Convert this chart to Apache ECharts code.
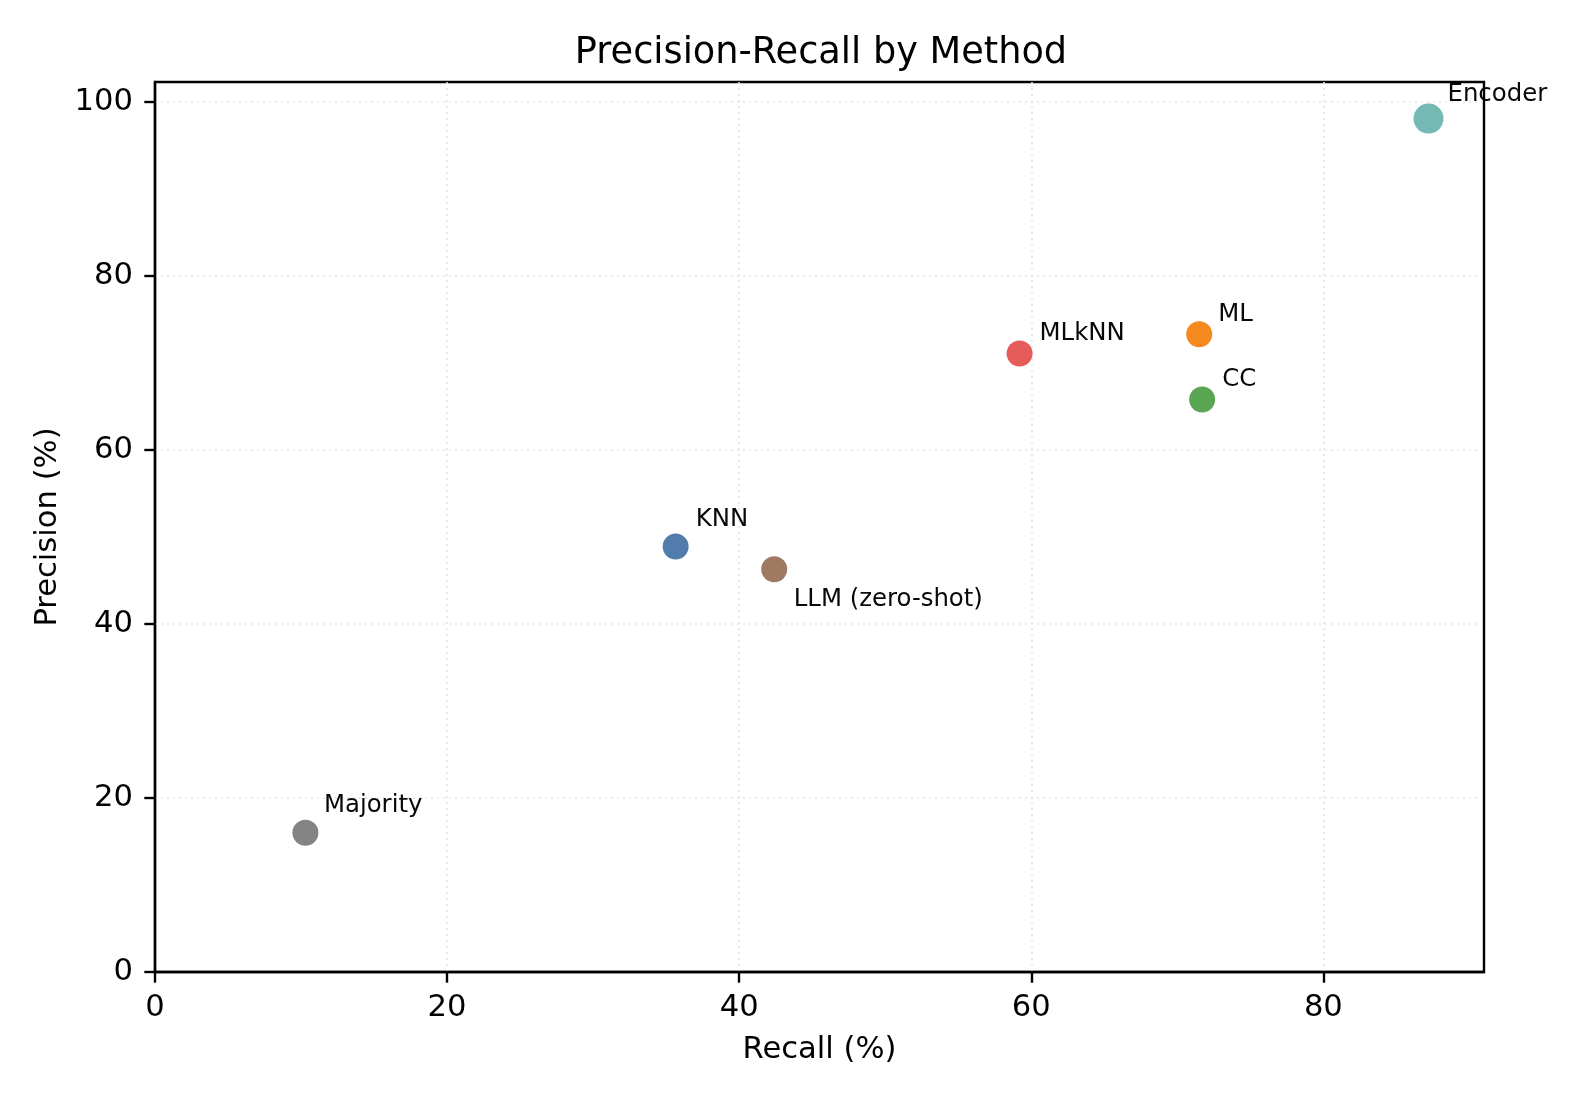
<!DOCTYPE html>
<html>
<head>
<meta charset="utf-8">
<script src="https://cdn.jsdelivr.net/npm/echarts@6/dist/echarts.min.js"></script>
<style>html,body{margin:0;padding:0;background:#fff}#c{width:1584px;height:1100px}</style>
</head>
<body>
<div id="c"></div>
<script>
const methods = ['Encoder', 'ML', 'CC', 'MLkNN', 'KNN', 'LLM (zero-shot)', 'Majority'];
const recall = [87.2, 71.5, 71.7, 59.2, 35.65, 42.4, 10.3];
const precision = [98.1, 73.3, 65.8, 71.1, 48.9, 46.3, 16.0];
const colors = ['#72b7b2', '#f58518', '#54a24b', '#e45756', '#4c78a8', '#9d755d', '#7f7f7f'];
const xTicks = [0, 20, 40, 60, 80];
const yTicks = [0, 20, 40, 60, 80, 100];
const labelOffsets = [[19, -24], [19, -19.5], [20, -19.5], [20, -20], [20, -27], [19.5, 30], [18.5, -27]];

const font = 'DejaVu Sans';
const data = methods.map((m, i) => ({
  name: m,
  value: [recall[i], precision[i]],
  symbolSize: m === 'Encoder' ? 30 : 26,
  itemStyle: { color: colors[i], opacity: 0.97 },
  label: {
    show: true,
    formatter: m,
    position: 'inside',
    align: 'left',
    verticalAlign: 'middle',
    offset: labelOffsets[i],
    color: '#000',
    fontFamily: font,
    fontSize: 24.4
  }
}));

const chart = echarts.init(document.getElementById('c'), null, { renderer: 'canvas' });
chart.setOption({
  animation: false,
  backgroundColor: '#fff',
  title: {
    text: 'Precision-Recall by Method',
    left: 816,
    textAlign: 'center',
    top: 30,
    textStyle: { fontFamily: font, fontSize: 36.7, fontWeight: 'normal', color: '#000' }
  },
  grid: {
    left: 155, right: 100, top: 82, bottom: 128,
    show: true, borderColor: '#000', borderWidth: 2.4, backgroundColor: 'transparent'
  },
  xAxis: {
    type: 'value', min: 0, max: 91, interval: 20,
    name: 'Recall (%)', nameLocation: 'middle', nameGap: 63,
    nameTextStyle: { fontFamily: font, fontSize: 30.6, color: '#000' },
    axisLine: { show: true, lineStyle: { color: '#000', width: 2.4 } },
    axisTick: { show: true, length: 10.7, inside: false, customValues: xTicks, lineStyle: { color: '#000', width: 2.4 } },
    axisLabel: { customValues: xTicks, fontFamily: font, fontSize: 30.6, color: '#000', margin: 21 },
    splitLine: { show: true, lineStyle: { color: '#e4e4e4', type: [2, 4], width: 1.6 } }
  },
  yAxis: {
    type: 'value', min: 0, max: 102.3, interval: 20,
    name: 'Precision (%)', nameLocation: 'middle', nameGap: 91, nameRotate: 90,
    nameTextStyle: { fontFamily: font, fontSize: 30.6, color: '#000' },
    axisLine: { show: true, lineStyle: { color: '#000', width: 2.4 } },
    axisTick: { show: true, length: 10.7, inside: false, customValues: yTicks, lineStyle: { color: '#000', width: 2.4 } },
    axisLabel: { customValues: yTicks, fontFamily: font, fontSize: 30.6, color: '#000', margin: 22 },
    splitLine: { show: true, lineStyle: { color: '#e4e4e4', type: [2, 4], width: 1.6 } }
  },
  series: [{
    type: 'scatter',
    data: data,
    emphasis: { disabled: true }
  }]
});
</script>
</body>
</html>
